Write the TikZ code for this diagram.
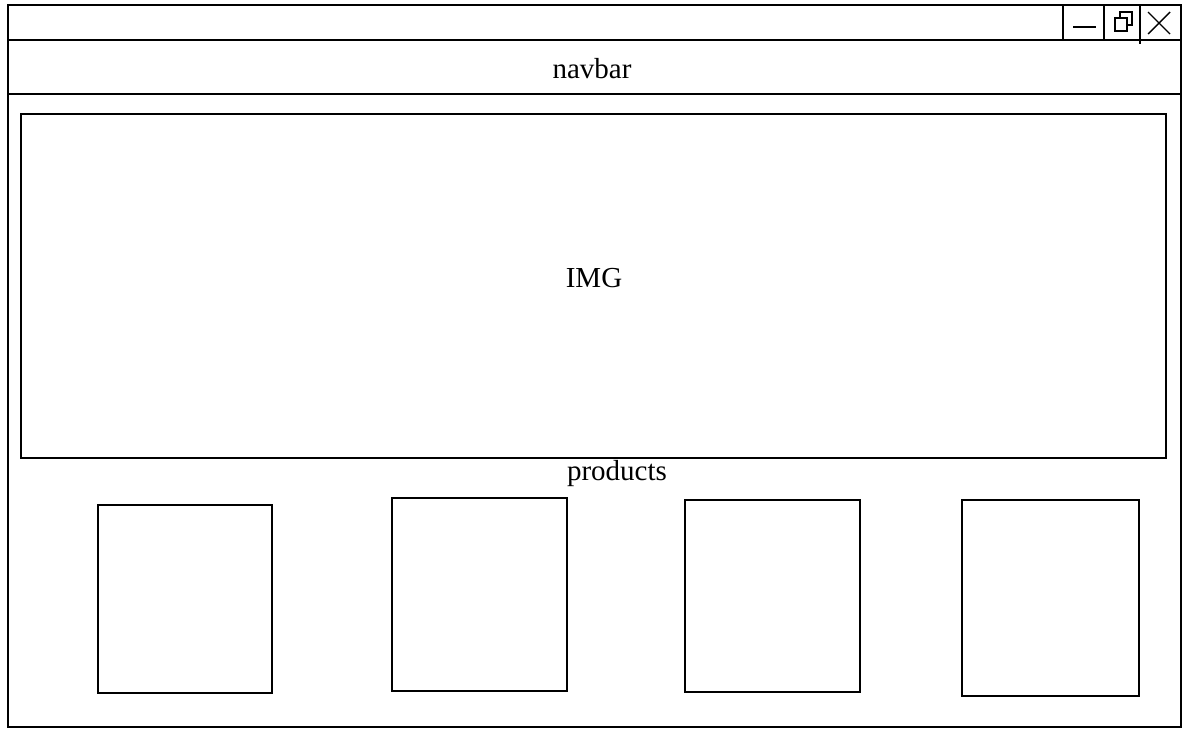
\documentclass[tikz,border=0pt]{standalone}
\usepackage{fontspec}
\setmainfont{Liberation Serif}
\usepackage{tikz}

\begin{document}
\begin{tikzpicture}[x=1pt,y=-1pt,line width=1.8pt,
    box/.style={draw=black},
    label/.style={font=\fontsize{29}{33}\selectfont}]
            \useasboundingbox (0,0) rectangle (1192,737);
            % window frame
            \draw[box] (8,5) rectangle (1181,727);
            \draw (8,40) -- (1181,40);
            \draw (8,94) -- (1181,94);
            % window buttons
            \draw (1063,5) -- (1063,40);
            \draw (1104,5) -- (1104,40);
            \draw (1140,5) -- (1140,44);
            \draw (1073,27) -- (1096,27);
            \draw[line width=1.4pt] (1115,18) rectangle (1127,31);
            \draw[line width=1.4pt] (1120,18) -- (1120,12) -- (1132,12) -- (1132,25) -- (1127,25);
            \draw[line width=1.4pt] (1148,12) -- (1170,34);
            \draw[line width=1.4pt] (1170,12) -- (1148,34);
            \node[label] (navbar) at (592,69) {navbar};
            % banner
            \draw[box] (21,114) rectangle (1166,458);
            \node[label] (img) at (594,278) {IMG};
            \node[label] (products) at (617,474) {products};
            % product cards
            \draw[box] (98,505) rectangle (272,693);
            \draw[box] (392,498) rectangle (567,691);
            \draw[box] (685,500) rectangle (860,692);
            \draw[box] (962,500) rectangle (1139,696);
        \end{tikzpicture}
\end{document}
